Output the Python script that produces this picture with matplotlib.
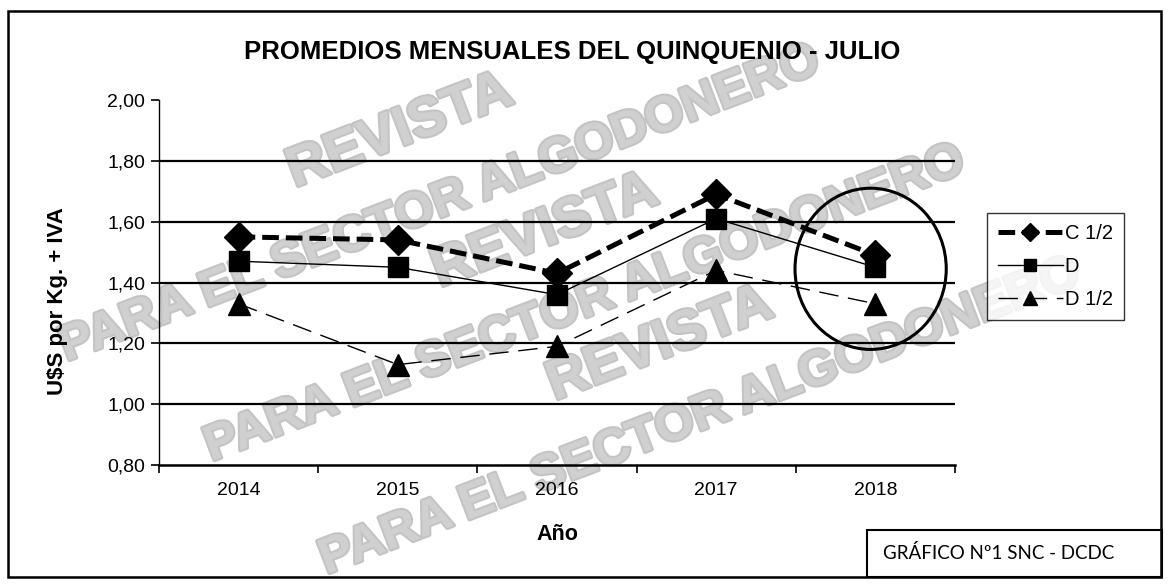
import numpy as np
import matplotlib
matplotlib.use("Agg")
from matplotlib import pyplot as plt
from matplotlib.patches import Ellipse, Rectangle
import matplotlib.patheffects as pe

# data
years = ["2014", "2015", "2016", "2017", "2018"]
c_half = [1.55, 1.54, 1.43, 1.69, 1.49]
d_grade = [1.47, 1.45, 1.36, 1.61, 1.45]
d_half = [1.33, 1.13, 1.19, 1.44, 1.33]
series_names = ["C 1/2", "D", "D 1/2"]
y_ticks = [0.80, 1.00, 1.20, 1.40, 1.60, 1.80, 2.00]

title = "PROMEDIOS MENSUALES DEL QUINQUENIO - JULIO"
y_title = "U$S por Kg. + IVA"
x_title = "Año"
footer = "GRÁFICO Nº1 SNC - DCDC"
wm_top = "REVISTA"
wm_bottom = "PARA EL SECTOR ALGODONERO"

plt.rcParams['font.family'] = ['Liberation Sans', 'DejaVu Sans']
plt.rcParams['lines.scale_dashes'] = False

W, H = 1171, 587
fig = plt.figure(figsize=(W / 100, H / 100), dpi=100)


def fx(px):
    return px / W


def fy(py):
    return 1 - py / H


# watermark stamps (behind everything)
wm_fx = [pe.withStroke(linewidth=3, foreground='#c4c4c4')]
for cx, cy in [(400, 132), (545, 232), (660, 345)]:
    fig.text(fx(cx), fy(cy), wm_top, fontsize=40, fontweight='bold',
             color='#d0d0d0', rotation=21, ha='center', va='center',
             zorder=-5, path_effects=wm_fx)
    fig.text(fx(cx + 40), fy(cy + 72), wm_bottom, fontsize=36, fontweight='bold',
             color='#d0d0d0', rotation=21, ha='center', va='center',
             zorder=-5, path_effects=wm_fx)

ax = fig.add_axes([fx(159), fy(465), fx(955) - fx(159), fy(100) - fy(465)])
ax.set_facecolor('none')

x = np.arange(len(years))
ax.plot(x, c_half, color='black', lw=3.6, dashes=(12, 5), marker='D', ms=15,
        label=series_names[0], zorder=4)
ax.plot(x, d_grade, color='black', lw=1.0, marker='s', ms=15,
        label=series_names[1], zorder=5)
ax.plot(x, d_half, color='black', lw=1.0, dashes=(14, 7), marker='^', ms=16,
        label=series_names[2], zorder=4)

# circle around the last year
ax.add_patch(Ellipse((len(years) - 1 - 0.03, 1.445), 0.95, 0.53, fill=False,
                     lw=2.2, edgecolor='black', clip_on=False, zorder=6))

ax.set_xlim(-0.5, len(years) - 0.5)
ax.set_ylim(0.8, 2.0)
ax.set_yticks(y_ticks)
ax.set_yticklabels([f"{v:.2f}".replace('.', ',') for v in y_ticks])
for v in y_ticks[1:-1]:
    ax.axhline(v, color='black', lw=1.6, zorder=1)

ax.set_xticks(np.arange(len(years) + 1) - 0.5)
ax.set_xticklabels([])
ax.set_xticks(x, minor=True)
ax.set_xticklabels(years, minor=True)
ax.tick_params(axis='x', which='major', length=6, width=1.2, direction='out')
ax.tick_params(axis='x', which='minor', length=0, pad=12, labelsize=14)
ax.tick_params(axis='y', length=6, width=1.2, labelsize=14, pad=4)

for side in ['top', 'right']:
    ax.spines[side].set_visible(False)
ax.spines['left'].set_linewidth(1.0)
ax.spines['bottom'].set_linewidth(1.8)

fig.text(fx(572), fy(52), title, fontsize=18.5, fontweight='bold',
         ha='center', va='center')
fig.text(fx(58), fy(301), y_title, fontsize=16, fontweight='bold',
         rotation=90, ha='center', va='center')
fig.text(fx(557), fy(535), x_title, fontsize=15.5, fontweight='bold',
         ha='center', va='center')

leg = fig.legend(loc='upper left', bbox_to_anchor=(fx(987), fy(213)),
                 frameon=True, fancybox=False, edgecolor='black',
                 fontsize=14.5, markerscale=0.6, handlelength=3.2,
                 handletextpad=0.1, labelspacing=0.7, borderpad=0.55,
                 borderaxespad=0)
leg.get_frame().set_linewidth(1.0)

# footer box
fig.patches.append(Rectangle((fx(867), fy(577)), fx(1162) - fx(867),
                             fy(530) - fy(577), transform=fig.transFigure,
                             fill=False, lw=1.5, edgecolor='black'))
fig.text(fx(883), fy(553), footer, fontsize=13.5, family=['Lato', 'DejaVu Sans'],
         ha='left', va='center')

# outer frame
fig.patches.append(Rectangle((fx(8), fy(577)), fx(1161) - fx(8),
                             fy(11) - fy(577), transform=fig.transFigure,
                             fill=False, lw=1.8, edgecolor='black'))

fig.savefig("out.png", dpi=100)
